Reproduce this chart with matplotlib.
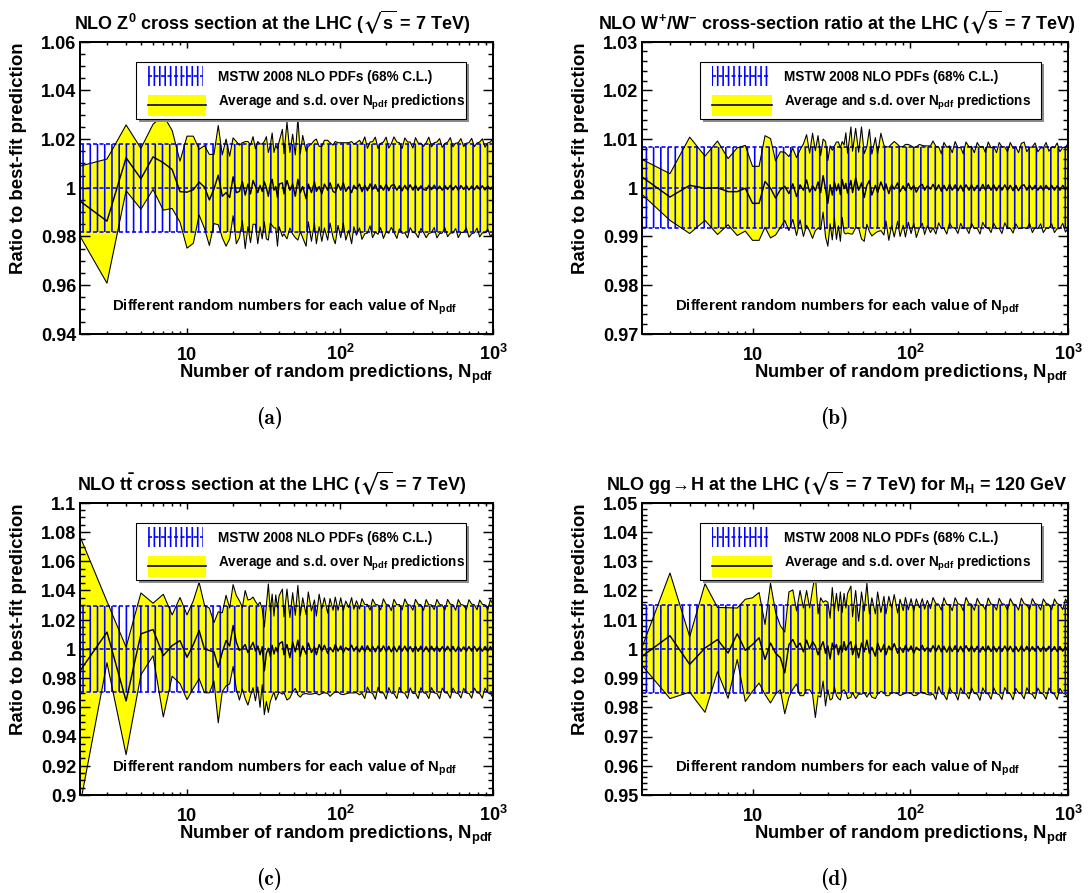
import numpy as np
import matplotlib.pyplot as plt
from matplotlib.patches import Rectangle
from matplotlib.ticker import MultipleLocator, NullFormatter

DPI = 130

plt.rcParams['font.family'] = ['Liberation Sans', 'DejaVu Sans']
plt.rcParams['font.weight'] = 'bold'
plt.rcParams['mathtext.fontset'] = 'custom'
plt.rcParams['mathtext.fallback'] = 'stixsans'
for key in ('rm', 'it', 'bf', 'sf'):
    plt.rcParams['mathtext.' + key] = 'Liberation Sans:bold'
plt.rcParams['hatch.linewidth'] = 0.9
plt.rcParams['axes.linewidth'] = 1.1

# number of random PDF sets used for each prediction
n_pdf = list(range(2, 41)) + [
    42, 43, 45, 47, 49, 51, 53, 55, 57, 60,
    62, 65, 68, 70, 73, 76, 79, 83, 86, 90,
    93, 97, 101, 105, 109, 114, 119, 123, 128, 134,
    139, 145, 151, 157, 163, 170, 177, 184, 192, 200,
    208, 216, 225, 235, 244, 254, 265, 276, 287, 299,
    311, 324, 337, 351, 365, 380, 396, 412, 429, 447,
    465, 484, 504, 525, 546, 569, 592, 616, 642, 668,
    695, 724, 754, 785, 817, 850, 885, 922, 960, 1000]

# average and s.d. of the ratio, as per-mille deviations from 1
z_mean = [
    -5.5, -13.7, 12.3, 3.7, 12.7, 10.3, 7.5, -1.6, -1.8, -0.8,
    2.3, 0.3, -5.0, -0.5, 5.2, -3.5, -2.0, -4.0, 4.5, -2.0,
    -1.5, 2.5, -3.0, 1.5, -2.5, 3.0, 0.5, -2.0, 1.0, -1.5,
    2.5, 0.0, -3.5, 1.5, 3.5, -1.0, 0.5, -4.0, 1.5,
    2.0, -2.5, 3.0, -1.0, 1.5, -3.5, 3.5, -2.0, 0.5, -4.5,
    1.5, -2.0, 2.5, -1.5, 0.5, -2.5, 1.5, -1.0, 2.0, -1.5,
    -2.0, 1.5, -1.0, 2.0, -1.5, 0.5, -2.0, 1.0, -0.5, 1.5,
    -1.6, 1.0, -1.2, 1.6, -0.8, 1.3, -1.5, 0.9, -1.0, 1.4,
    -1.2, 0.9, 1.3, -1.0, 0.8, -1.3, 1.0, -0.9, 1.2, -1.0,
    1.0, -1.1, 0.8, -0.7, -1.0, 1.0, -0.8, 1.1, -0.9, 0.7,
    -1.0, 0.9, -0.7, 1.0, -0.9, 0.8, -1.0, 0.9, -0.7, 0.9,
    -0.9, 0.7, -0.8, 0.9, -0.7, 0.8, -0.9, 0.7, -0.6, 0.8]
z_sd = [
    14.4, 25.5, 13.5, 12.5, 13.4, 19.5, 16.0, 12.5, 23.0, 22.0,
    13.5, 17.0, 18.7, 14.2, 20.4, 17.0, 22.0, 17.0, 16.0, 21.0,
    19.0, 16.0, 22.0, 17.5, 20.0, 18.0, 15.5, 21.0, 17.0, 19.5,
    16.5, 21.0, 18.0, 16.0, 19.0, 15.5, 17.0, 20.0, 17.5,
    22.0, 16.5, 24.0, 15.5, 20.5, 17.0, 25.0, 16.0, 21.0, 19.5,
    15.5, 20.0, 17.0, 21.5, 16.5, 19.5, 18.0, 20.5, 16.5, 19.0,
    21.0, 17.0, 19.5, 16.5, 20.0, 18.0, 21.0, 17.0, 19.0, 18.0,
    19.6, 19.9, 17.4, 17.2, 19.7, 19.5, 17.6, 17.3, 19.8, 19.4,
    17.5, 17.2, 19.6, 19.8, 17.7, 17.4, 19.5, 19.7, 17.6, 17.3,
    19.6, 19.4, 17.5, 17.7, 19.5, 19.8, 17.6, 17.4, 19.7, 19.5,
    17.6, 17.3, 19.4, 19.6, 17.7, 17.5, 19.5, 19.3, 17.6, 17.4,
    19.4, 19.6, 17.7, 17.5, 19.5, 19.3, 17.6, 17.7, 19.4, 19.5]

wratio_mean = [
    2.2, -1.9, 0.5, -0.1, 0.0, -0.8, -0.8, -0.1, -3.2, -3.2,
    1.3, -0.1, -2.1, -0.4, 0.3, -1.2, 0.8, -1.8, 0.6, -0.5,
    1.6, -0.9, 0.4, -0.6, 1.2, -1.0, 2.5, -0.3, -3.2, 0.6,
    -1.5, 1.2, -0.6, 0.8, -1.4, 1.7, -0.2, 0.9, -1.1,
    1.5, -1.0, 2.0, -0.5, 1.0, -2.0, 0.5, 1.5, -1.5, 0.5,
    -1.0, 1.2, -0.5, 0.8, -1.2, 0.6, -0.3, 1.0, -0.8, 0.4,
    -0.6, 0.9, -0.4, 0.5, -0.9, 0.3, 0.7, -0.5, 0.4, -0.3,
    0.7, -0.5, 0.6, -0.7, 0.5, -0.6, 0.7, -0.5, 0.6, -0.6,
    0.5, -0.7, 0.6, -0.5, 0.6, -0.6, 0.5, -0.6, 0.7, -0.5,
    0.6, -0.5, 0.6, -0.6, 0.5, -0.5, 0.6, -0.5, 0.5, -0.6,
    0.5, -0.6, 0.4, 0.6, -0.5, 0.5, -0.4, 0.5, -0.5, 0.4,
    -0.5, 0.5, -0.4, 0.5, -0.5, 0.4, -0.5, 0.5, -0.4, 0.5]
wratio_sd = [
    3.6, 4.8, 9.9, 6.6, 9.6, 6.8, 9.0, 8.8, 7.6, 7.6,
    9.4, 10.2, 7.6, 7.8, 7.0, 7.6, 7.3, 8.0, 7.2, 9.5,
    9.3, 8.0, 10.8, 8.2, 9.5, 7.6, 7.5, 9.8, 8.8, 8.0,
    9.2, 7.4, 10.0, 8.6, 9.6, 7.8, 9.0, 10.4, 8.2,
    11.0, 8.5, 10.2, 7.8, 11.5, 9.0, 8.0, 10.5, 8.4, 9.8,
    8.0, 10.0, 9.2, 7.6, 9.6, 8.4, 9.8, 7.9, 9.2, 8.1,
    9.5, 8.0, 9.0, 7.8, 9.3, 8.6, 8.0, 9.1, 8.2, 8.9,
    8.9, 9.0, 7.8, 7.7, 8.8, 8.9, 7.9, 7.7, 8.9, 8.8,
    7.8, 7.7, 8.8, 8.9, 7.9, 7.8, 8.8, 8.9, 7.8, 7.7,
    8.8, 8.7, 7.9, 7.8, 8.8, 8.9, 7.8, 7.9, 8.8, 8.7,
    7.9, 7.8, 8.7, 8.8, 7.9, 7.8, 8.8, 8.7, 7.9, 7.8,
    8.7, 8.8, 7.9, 7.9, 8.7, 8.8, 7.9, 7.8, 8.7, 8.7]

ttbar_mean = [
    -15.0, 11.5, -35.6, 10.3, 13.3, -4.6, 2.3, 5.7, -5.7, 3.0,
    12.6, 0.0, -1.1, -2.0, -12.6, -2.3, 5.7, 2.0, 16.0, 4.6,
    -1.0, 0.5, 3.0, -2.5, 1.0, 4.5, -1.5, 2.0, -4.0, 1.5,
    -15.0, -3.0, 0.5, -5.0, 2.5, -3.5, 1.0, -2.0, 3.5,
    5.0, -4.0, 3.0, -6.0, 4.5, -2.0, 6.0, -5.0, 2.0, -3.5,
    4.0, -2.5, 1.5, -4.0, 3.0, -1.5, 2.5, -3.0, 1.0, -2.0,
    3.0, -1.5, 2.0, -2.5, 1.0, -1.0, 2.5, -1.5, 1.5, -2.0,
    2.0, -1.8, 2.2, -1.6, 1.8, -2.0, 1.9, -1.7, 2.1, -1.9,
    1.8, -2.0, 1.7, -1.9, 2.0, -1.6, 1.9, -1.8, 1.6, -2.0,
    1.8, -1.7, 1.9, -1.8, 1.6, -1.9, 1.8, -1.6, 1.7, -1.8,
    1.6, -1.7, 1.8, -1.5, 1.7, -1.8, 1.6, -1.6, 1.5, -1.7,
    1.6, -1.5, 1.7, -1.6, 1.5, -1.6, 1.7, -1.5, 1.6, -1.6]
ttbar_sd = [
    92.0, 21.0, 36.8, 28.0, 18.0, 42.0, 21.0, 29.5, 29.0, 30.0,
    33.0, 30.0, 29.0, 20.0, 38.0, 27.0, 31.0, 26.0, 28.0, 32.0,
    34.0, 28.0, 37.0, 36.0, 33.0, 31.0, 34.0, 28.0, 36.0, 26.0,
    30.0, 33.0, 44.0, 31.0, 35.0, 26.0, 36.0, 30.0, 33.0,
    36.0, 26.0, 38.0, 27.5, 34.0, 25.0, 37.5, 28.0, 33.0, 27.0,
    35.0, 28.5, 32.0, 26.5, 34.5, 29.0, 32.5, 27.5, 33.5, 28.5,
    32.5, 28.0, 33.0, 28.8, 31.8, 29.2, 32.6, 28.6, 31.5, 29.4,
    32.4, 32.2, 28.3, 28.1, 32.3, 32.5, 28.2, 28.4, 32.2, 32.4,
    28.3, 28.2, 32.3, 32.1, 28.4, 28.2, 32.3, 32.2, 28.3, 28.5,
    32.1, 32.3, 28.4, 28.2, 32.2, 32.1, 28.3, 28.5, 32.2, 32.3,
    28.4, 28.3, 32.1, 32.2, 28.5, 28.3, 32.2, 32.0, 28.4, 28.5,
    32.1, 32.2, 28.5, 28.4, 32.0, 32.1, 28.5, 28.4, 32.1, 32.0]

higgs_mean = [
    -2.5, 4.5, -5.3, 0.3, 3.2, -1.4, 5.2, -0.5, 1.5, 3.8,
    -3.6, 2.0, -1.5, -3.0, -8.2, 1.5, 3.2, 0.5, 2.0, -1.0,
    3.0, 0.0, 2.5, 1.0, -2.0, 0.5, 2.5, -1.5, 1.0, -3.5,
    2.0, 0.0, 1.5, -2.0, 1.0, -1.0, 2.5, -0.5, 1.0,
    2.5, -2.0, 1.5, -3.0, 2.0, -1.0, 3.0, -1.5, 0.5, -2.5,
    2.0, -1.0, 1.5, -2.0, 1.0, -0.5, 1.8, -1.5, 0.5, -1.2,
    1.2, -0.8, 1.0, -1.5, 0.6, -0.5, 1.2, -0.8, 0.5, -1.0,
    1.1, -0.9, 1.2, -1.0, 0.9, -1.1, 1.0, -0.9, 1.1, -1.0,
    0.9, -1.0, 1.1, -0.8, 1.0, -1.0, 0.9, -1.1, 0.8, -0.9,
    1.0, -0.9, 0.9, -1.0, 0.8, -0.9, 1.0, -0.8, 0.9, -1.0,
    0.8, -0.9, 1.0, -0.8, 0.9, -0.9, 0.8, -0.8, 0.9, -0.9,
    0.8, -0.8, 0.9, -0.8, 0.8, -0.9, 0.8, -0.8, 0.8, -0.9]
higgs_sd = [
    3.2, 21.5, 9.5, 22.0, 11.0, 15.5, 8.8, 17.5, 16.0, 15.5,
    12.0, 20.5, 14.0, 11.0, 14.0, 18.0, 17.0, 12.5, 18.0, 15.0,
    17.0, 14.0, 18.0, 24.5, 14.0, 17.0, 13.5, 18.0, 15.0, 14.0,
    19.0, 13.0, 17.5, 15.0, 18.5, 13.5, 16.5, 14.5, 18.0,
    19.0, 13.0, 18.5, 12.5, 17.5, 14.0, 19.5, 13.5, 17.0, 14.5,
    17.5, 13.5, 16.5, 14.0, 17.0, 14.5, 16.8, 13.8, 16.5, 14.3,
    16.4, 14.2, 16.2, 14.5, 16.5, 14.6, 16.0, 14.4, 16.1, 14.8,
    16.5, 16.4, 14.1, 14.3, 16.6, 16.3, 14.2, 14.0, 16.4, 16.5,
    14.2, 14.1, 16.5, 16.3, 14.3, 14.2, 16.4, 16.5, 14.1, 14.3,
    16.4, 16.3, 14.2, 14.3, 16.5, 16.4, 14.2, 14.1, 16.3, 16.4,
    14.3, 14.2, 16.4, 16.3, 14.2, 14.3, 16.4, 16.3, 14.3, 14.2,
    16.3, 16.4, 14.3, 14.2, 16.3, 16.4, 14.3, 14.3, 16.3, 16.3]

# MSTW 2008 68% C.L. half-widths, per mille
mstw_sd = [18.0, 8.3, 29.5, 15.0]

titles = [
    r'NLO Z$^{0}$ cross section at the LHC ($\sqrt{s}$ = 7 TeV)',
    r'NLO W$^{+}$/W$^{-}$ cross-section ratio at the LHC ($\sqrt{s}$ = 7 TeV)',
    r'NLO t$\bar{t}$ cross section at the LHC ($\sqrt{s}$ = 7 TeV)',
    r'NLO gg$\!\rightarrow\!$H at the LHC ($\sqrt{s}$ = 7 TeV) for M$_{H}$ = 120 GeV',
]
captions = ['(a)', '(b)', '(c)', '(d)']

y_ticks = [
    [0.94, 0.96, 0.98, 1.00, 1.02, 1.04, 1.06],
    [0.97, 0.98, 0.99, 1.00, 1.01, 1.02, 1.03],
    [0.90, 0.92, 0.94, 0.96, 0.98, 1.00, 1.02, 1.04, 1.06, 1.08, 1.10],
    [0.95, 0.96, 0.97, 0.98, 0.99, 1.00, 1.01, 1.02, 1.03, 1.04, 1.05],
]
y_tick_labels = [
    ['0.94', '0.96', '0.98', '1', '1.02', '1.04', '1.06'],
    ['0.97', '0.98', '0.99', '1', '1.01', '1.02', '1.03'],
    ['0.9', '0.92', '0.94', '0.96', '0.98', '1', '1.02', '1.04', '1.06', '1.08', '1.1'],
    ['0.95', '0.96', '0.97', '0.98', '0.99', '1', '1.01', '1.02', '1.03', '1.04', '1.05'],
]
y_minor_step = [0.005, 0.002, 0.005, 0.002]

x_major = [10, 100, 1000]
x_major_labels = ['10', r'$10^{2}$', r'$10^{3}$']
x_minor = [3, 4, 5, 6, 7, 8, 9, 20, 30, 40, 50, 60, 70, 80, 90,
           200, 300, 400, 500, 600, 700, 800, 900]

series = [(z_mean, z_sd), (wratio_mean, wratio_sd),
          (ttbar_mean, ttbar_sd), (higgs_mean, higgs_sd)]
for mean, sd in series:
    assert len(mean) == len(n_pdf) and len(sd) == len(n_pdf)

W, H = 1090, 893
YELLOW = '#ffff00'
BLUE = '#0000ff'
DASH = (0, (2.5, 1.5))


def px_rect(left, right, top, bottom):
    return [left / W, (H - bottom) / H, (right - left) / W, (bottom - top) / H]


def draw_bands(ax, mean, sd, mstw):
    n = np.asarray(n_pdf, dtype=float)
    centre = 1 + np.asarray(mean) / 1000
    spread = np.asarray(sd) / 1000
    half = mstw / 1000
    ends = [n[0], n[-1]]

    ax.fill_between(n, centre - spread, centre + spread,
                    facecolor=YELLOW, edgecolor='none', lw=0, zorder=1)
    ax.fill_between(ends, 1 - half, 1 + half, facecolor='none',
                    edgecolor=BLUE, hatch='|||', lw=0, zorder=2)
    for level in (1 - half, 1.0, 1 + half):
        ax.plot(ends, [level, level], color=BLUE, lw=0.9, ls=DASH, zorder=2)

    ax.plot(n, centre + spread, color='black', lw=0.6, zorder=3)
    ax.plot(n, centre - spread, color='black', lw=0.6, zorder=3)
    ax.plot(n, centre, color='black', lw=0.8, zorder=3)


def draw_key(ax):
    t = ax.transAxes
    x0, y0, w, h = 0.135, 0.736, 0.80, 0.196
    ax.add_patch(Rectangle((x0 + 0.007, y0 - 0.010), w, h, transform=t,
                           facecolor='#8c8c8c', edgecolor='none', zorder=6))
    ax.add_patch(Rectangle((x0, y0), w, h, transform=t, facecolor='white',
                           edgecolor='black', lw=0.6, zorder=7))
    # hatched MSTW sample
    ax.add_patch(Rectangle((0.164, 0.849), 0.133, 0.069, transform=t,
                           facecolor='none', edgecolor=BLUE, hatch='||||',
                           lw=0, zorder=8))
    ax.plot([0.164, 0.297], [0.884, 0.884], transform=t, color=BLUE,
            lw=0.9, ls=DASH, zorder=8)
    # yellow average sample
    ax.add_patch(Rectangle((0.164, 0.747), 0.140, 0.071, transform=t,
                           facecolor=YELLOW, edgecolor='none', zorder=8))
    ax.plot([0.164, 0.304], [0.783, 0.783], transform=t, color='black',
            lw=0.9, zorder=9)
    ax.text(0.333, 0.866, 'MSTW 2008 NLO PDFs (68% C.L.)', transform=t,
            fontsize=7.5, va='baseline', zorder=9)
    ax.text(0.333, 0.782, r'Average and s.d. over N$_{\mathrm{pdf}}$ predictions',
            transform=t, fontsize=7.5, va='baseline', zorder=9)


fig = plt.figure(figsize=((W + 0.3) / DPI, (H + 0.3) / DPI), dpi=DPI)
fig.patch.set_facecolor('white')

# pixel boxes of the four frames: left, right, top, bottom
boxes = [(80, 493, 42, 334), (642, 1068, 42, 334),
         (80, 493, 503, 795), (642, 1068, 503, 795)]
centres = [272, 837]
ylabel_x = [18, 580]
title_y = [22, 483]
caption_y = [418, 879]

for i, (left, right, top, bottom) in enumerate(boxes):
    col, row = i % 2, i // 2
    ax = fig.add_axes(px_rect(left, right, top, bottom))
    mean, sd = series[i]
    draw_bands(ax, mean, sd, mstw_sd[i])

    ax.set_xscale('log')
    ax.set_xlim(n_pdf[0], n_pdf[-1])
    y_lo, y_hi = y_ticks[i][0], y_ticks[i][-1]
    ax.set_ylim(y_lo, y_hi)

    ax.tick_params(which='both', direction='in', top=True, right=True, width=0.8)
    ax.tick_params(axis='x', which='major', length=3.3, pad=14.4)
    ax.tick_params(axis='x', which='minor', length=1.7)
    ax.tick_params(axis='y', which='major', length=5.5, pad=2.2)
    ax.tick_params(axis='y', which='minor', length=2.8)

    ax.set_xticks(x_major, x_major_labels, va='baseline', fontsize=10)
    ax.set_xticks(x_minor, minor=True)
    ax.xaxis.set_minor_formatter(NullFormatter())
    ax.set_yticks(y_ticks[i], y_tick_labels[i], fontsize=10)
    ax.yaxis.set_minor_locator(MultipleLocator(y_minor_step[i]))

    draw_key(ax)
    ax.text(0.077, 0.082,
            r'Different random numbers for each value of N$_{\mathrm{pdf}}$',
            transform=ax.transAxes, fontsize=8.3, va='baseline', zorder=9)
    ax.text(1.0, -0.1507, r'Number of random predictions, N$_{\mathrm{pdf}}$',
            transform=ax.transAxes, ha='right', va='baseline', fontsize=10.2)

    fig.text(ylabel_x[col] / W, 1 - top / H, 'Ratio to best-fit prediction',
             rotation=90, ha='center', va='top', fontsize=10.3)
    fig.text(centres[col] / W, 1 - title_y[row] / H, titles[i],
             ha='center', va='center', fontsize=10)
    fig.text((centres[col] - 3) / W, 1 - caption_y[row] / H, captions[i],
             family='cmb10', fontweight='normal', ha='center', va='center',
             fontsize=11.8)

fig.savefig('out.png', dpi=DPI)
